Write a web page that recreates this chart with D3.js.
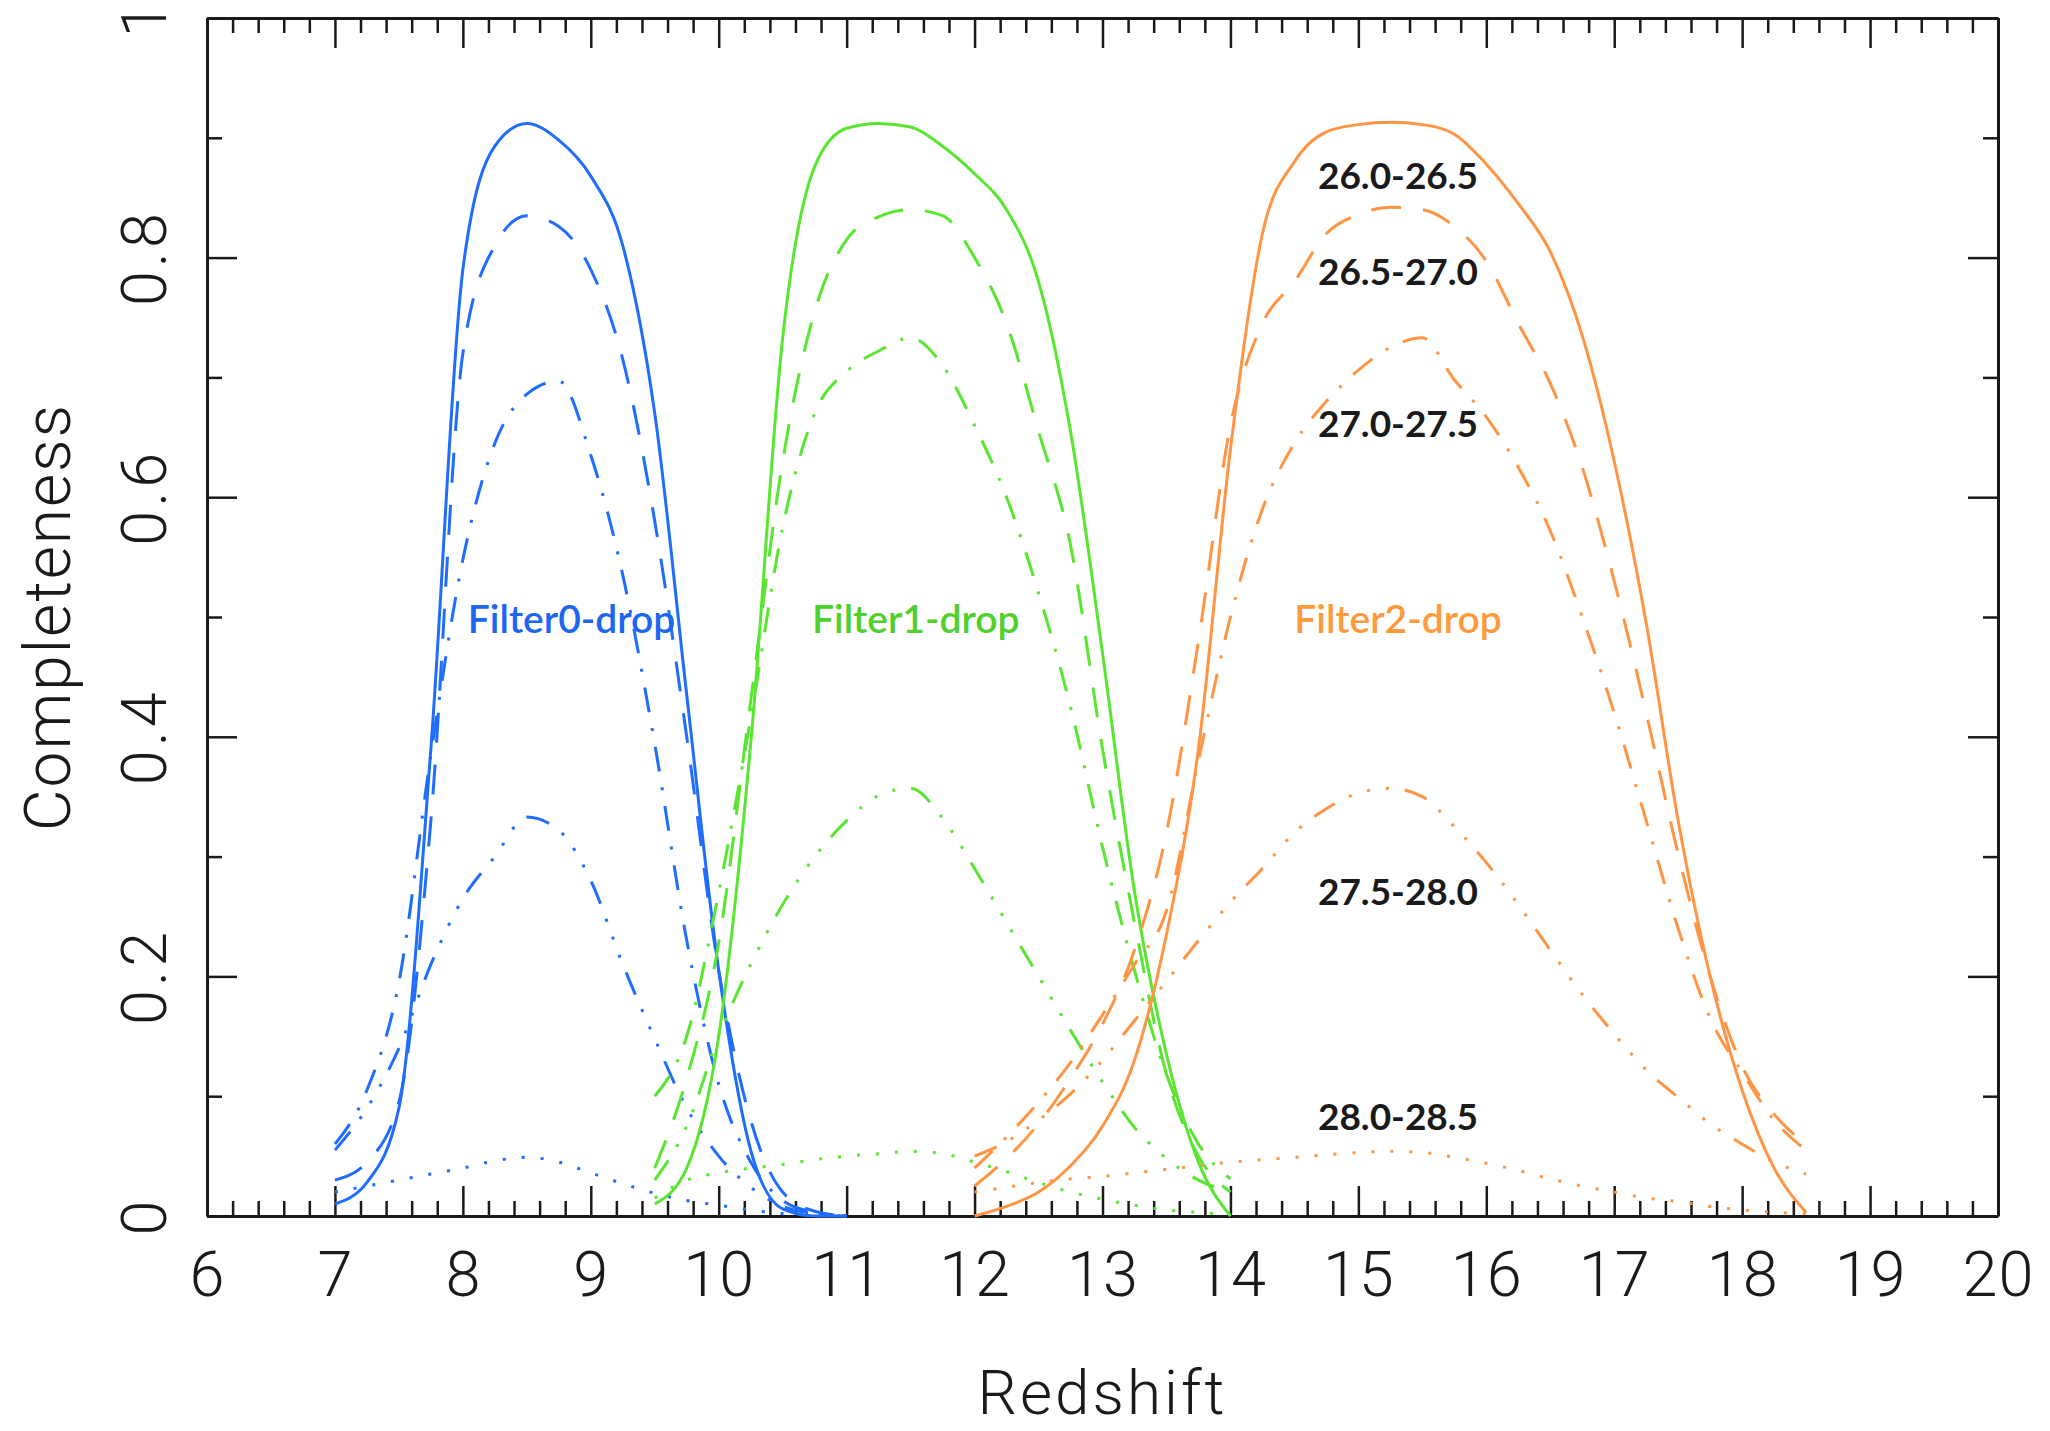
<!DOCTYPE html>
<html>
<head>
<meta charset="utf-8">
<script src="https://cdn.jsdelivr.net/npm/d3@7"></script>
<style>
  body { margin: 0; background: #fff; }
  svg { display: block; }
</style>
</head>
<body>
<svg width="2050" height="1431"></svg>
<script>
// redshift grids, one per dropout filter
const zF0 = [7.0, 7.25, 7.5, 7.75, 8.0, 8.25, 8.5, 8.75, 9.0, 9.25, 9.5, 9.75, 10.0, 10.25, 10.5, 10.75, 11.0];
const zF1 = [9.5, 9.75, 10.0, 10.25, 10.5, 10.75, 11.0, 11.25, 11.5, 11.75, 12.0, 12.25, 12.5, 12.75, 13.0, 13.25, 13.5, 13.75, 14.0];
const zF2 = [12.0, 12.25, 12.5, 12.75, 13.0, 13.25, 13.5, 13.75, 14.0, 14.25, 14.5, 14.75, 15.0, 15.25, 15.5, 15.75, 16.0, 16.25, 16.5, 16.75, 17.0, 17.25, 17.5, 17.75, 18.0, 18.25, 18.5];

// magnitude bins (one line style each)
const magBins = ["26.0-26.5", "26.5-27.0", "27.0-27.5", "27.5-28.0", "28.0-28.5"];
const filterNames = ["Filter0-drop", "Filter1-drop", "Filter2-drop"];

// Filter0-drop completeness, rows follow magBins
const f0Bin1 = [0.01, 0.028, 0.09, 0.39, 0.79, 0.893, 0.912, 0.898, 0.868, 0.81, 0.67, 0.435, 0.205, 0.055, 0.006, 0, 0];
const f0Bin2 = [0.03, 0.045, 0.095, 0.33, 0.72, 0.81, 0.835, 0.826, 0.79, 0.715, 0.58, 0.40, 0.205, 0.08, 0.02, 0.004, 0];
const f0Bin3 = [0.06, 0.105, 0.195, 0.385, 0.548, 0.645, 0.686, 0.697, 0.635, 0.535, 0.394, 0.23, 0.11, 0.045, 0.013, 0.003, 0];
const f0Bin4 = [0.055, 0.09, 0.14, 0.21, 0.265, 0.30, 0.333, 0.322, 0.28, 0.21, 0.148, 0.09, 0.05, 0.024, 0.008, 0.002, 0];
const f0Bin5 = [0.02, 0.025, 0.03, 0.035, 0.04, 0.046, 0.049, 0.045, 0.036, 0.027, 0.019, 0.013, 0.009, 0.005, 0.002, 0.001, 0];

// Filter1-drop
const f1Bin1 = [0.01, 0.04, 0.15, 0.394, 0.733, 0.876, 0.908, 0.912, 0.909, 0.893, 0.87, 0.84, 0.78, 0.655, 0.47, 0.271, 0.135, 0.045, 0.0];
const f1Bin2 = [0.04, 0.115, 0.228, 0.43, 0.63, 0.755, 0.815, 0.834, 0.84, 0.835, 0.80, 0.745, 0.655, 0.56, 0.39, 0.245, 0.118, 0.05, 0.02];
const f1Bin3 = [0.10, 0.15, 0.27, 0.415, 0.575, 0.67, 0.705, 0.722, 0.733, 0.71, 0.66, 0.60, 0.52, 0.425, 0.308, 0.205, 0.118, 0.06, 0.031];
const f1Bin4 = [0.03, 0.075, 0.15, 0.21, 0.26, 0.30, 0.33, 0.351, 0.357, 0.332, 0.29, 0.245, 0.20, 0.155, 0.112, 0.074, 0.048, 0.03, 0.02];
const f1Bin5 = [0.015, 0.03, 0.036, 0.04, 0.043, 0.047, 0.05, 0.052, 0.054, 0.052, 0.045, 0.037, 0.028, 0.02, 0.014, 0.009, 0.005, 0.003, 0.001];

// Filter2-drop
const f2Bin1 = [0.0, 0.008, 0.02, 0.042, 0.075, 0.13, 0.235, 0.39, 0.64, 0.82, 0.88, 0.905, 0.911, 0.913, 0.911, 0.903, 0.878, 0.845, 0.805, 0.735, 0.63, 0.495, 0.33, 0.20, 0.105, 0.04, 0.003];
const f2Bin2 = [0.025, 0.048, 0.077, 0.115, 0.16, 0.222, 0.32, 0.48, 0.66, 0.745, 0.78, 0.82, 0.836, 0.842, 0.84, 0.826, 0.797, 0.745, 0.695, 0.625, 0.53, 0.42, 0.302, 0.20, 0.125, 0.085, 0.06];
const f2Bin3 = [0.04, 0.066, 0.095, 0.128, 0.168, 0.21, 0.255, 0.38, 0.50, 0.59, 0.645, 0.68, 0.706, 0.725, 0.733, 0.698, 0.667, 0.625, 0.572, 0.50, 0.42, 0.33, 0.24, 0.165, 0.12, 0.08, 0.055];
const f2Bin4 = [0.05, 0.062, 0.08, 0.102, 0.13, 0.163, 0.196, 0.23, 0.262, 0.29, 0.32, 0.34, 0.353, 0.357, 0.35, 0.325, 0.295, 0.26, 0.222, 0.185, 0.152, 0.122, 0.099, 0.077, 0.06, 0.045, 0.035];
const f2Bin5 = [0.02, 0.024, 0.028, 0.031, 0.033, 0.036, 0.039, 0.042, 0.045, 0.047, 0.049, 0.051, 0.053, 0.054, 0.053, 0.049, 0.044, 0.038, 0.031, 0.025, 0.02, 0.015, 0.012, 0.008, 0.005, 0.003, 0.002];

// axis ticks
const xMajor = [6, 7, 8, 9, 10, 11, 12, 13, 14, 15, 16, 17, 18, 19, 20];
const yMajor = [0, 0.2, 0.4, 0.6, 0.8, 1];
const yLabels = ["0", "0.2", "0.4", "0.6", "0.8", "1"];

const filters = [
  { name: filterNames[0], z: zF0, bins: [f0Bin1, f0Bin2, f0Bin3, f0Bin4, f0Bin5], color: "#1f6dff", text: "#1c66f2", lx: 8.85 },
  { name: filterNames[1], z: zF1, bins: [f1Bin1, f1Bin2, f1Bin3, f1Bin4, f1Bin5], color: "#58e631", text: "#4fd02c", lx: 11.54 },
  { name: filterNames[2], z: zF2, bins: [f2Bin1, f2Bin2, f2Bin3, f2Bin4, f2Bin5], color: "#ff9544", text: "#ff9a3a", lx: 15.31 }
];

// line style per magnitude bin: solid, dashed, dash-dot, dash-dot-dot-dot, dotted
const dashes = [null, "30,22", "25,16,3,16", "24,16,3,16,3,16,3,16", "3,16"];

// where the bin labels sit (x in redshift, baseline in completeness)
const binLabelX = 15.31;
const binLabelY = [0.857, 0.777, 0.65, 0.26, 0.072];

const svg = d3.select("svg");
const W = 2050, H = 1431;
const margin = { left: 207, right: 52, top: 18, bottom: 215 };

const x = d3.scaleLinear().domain([6, 20]).range([margin.left, W - margin.right]);
const y = d3.scaleLinear().domain([0, 1]).range([H - margin.bottom, margin.top]);

const xMinor = d3.range(6, 20.001, 0.2).map(v => +v.toFixed(1)).filter(v => Math.abs(v - Math.round(v)) > 1e-6);
const yMinor = [0.1, 0.3, 0.5, 0.7, 0.9];

const tickFont = "Roboto, 'Liberation Sans', sans-serif";

// ---- frame + ticks (all pointing inward)
function styleAxis(g) {
  g.selectAll("path.domain").attr("stroke", "#1a1a1a").attr("stroke-width", 3);
  g.selectAll(".tick line").attr("stroke", "#1a1a1a").attr("stroke-width", 2.5);
}

const gx = svg.append("g").attr("transform", `translate(0,${y(0)})`);
gx.call(d3.axisBottom(x).tickValues(xMajor).tickSize(-30).tickSizeOuter(0).tickPadding(35).tickFormat(d3.format("d")));
gx.append("g").call(d3.axisBottom(x).tickValues(xMinor).tickSize(-15).tickSizeOuter(0).tickFormat(""))
  .select("path.domain").remove();
gx.selectAll("text").attr("font-family", tickFont).attr("font-weight", 300).attr("font-size", 63)
  .attr("letter-spacing", 1).attr("fill", "#1a1a1a");
styleAxis(gx);

const gt = svg.append("g").attr("transform", `translate(0,${y(1)})`);
gt.call(d3.axisTop(x).tickValues(xMajor).tickSize(-30).tickSizeOuter(0).tickFormat(""));
gt.append("g").call(d3.axisTop(x).tickValues(xMinor).tickSize(-15).tickSizeOuter(0).tickFormat(""))
  .select("path.domain").remove();
styleAxis(gt);

const gl = svg.append("g").attr("transform", `translate(${x(6)},0)`);
gl.call(d3.axisLeft(y).tickValues(yMajor).tickSize(-30).tickSizeOuter(0).tickFormat(""));
gl.append("g").call(d3.axisLeft(y).tickValues(yMinor).tickSize(-15).tickSizeOuter(0).tickFormat(""))
  .select("path.domain").remove();
styleAxis(gl);

const gr = svg.append("g").attr("transform", `translate(${x(20)},0)`);
gr.call(d3.axisRight(y).tickValues(yMajor).tickSize(-30).tickSizeOuter(0).tickFormat(""));
gr.append("g").call(d3.axisRight(y).tickValues(yMinor).tickSize(-15).tickSizeOuter(0).tickFormat(""))
  .select("path.domain").remove();
styleAxis(gr);

// rotated y tick labels
svg.append("g").selectAll("text")
  .data(yMajor)
  .join("text")
  .attr("transform", (d) => `translate(166,${y(d)}) rotate(-90)`)
  .attr("text-anchor", "middle")
  .attr("font-family", tickFont)
  .attr("font-weight", 300)
  .attr("font-size", 63)
  .attr("letter-spacing", 4)
  .attr("fill", "#1a1a1a")
  .text((d, i) => yLabels[i]);

// axis titles
svg.append("text")
  .attr("transform", `translate(70,${(y(0) + y(1)) / 2}) rotate(-90)`)
  .attr("text-anchor", "middle")
  .attr("font-family", tickFont)
  .attr("font-weight", 300)
  .attr("font-size", 64)
  .attr("letter-spacing", 2)
  .attr("fill", "#1a1a1a")
  .text("Completeness");

svg.append("text")
  .attr("x", (x(6) + x(20)) / 2)
  .attr("y", 1414)
  .attr("text-anchor", "middle")
  .attr("font-family", tickFont)
  .attr("font-weight", 300)
  .attr("font-size", 62)
  .attr("letter-spacing", 3)
  .attr("fill", "#1a1a1a")
  .text("Redshift");

// ---- curves
const line = d3.line()
  .x(d => x(d[0]))
  .y(d => y(d[1]))
  .curve(d3.curveMonotoneX);

const curves = svg.append("g").attr("fill", "none");
filters.forEach(f => {
  f.bins.forEach((vals, i) => {
    curves.append("path")
      .datum(f.z.map((z, k) => [z, vals[k]]))
      .attr("d", line)
      .attr("stroke", f.color)
      .attr("stroke-width", 3)
      .attr("stroke-dasharray", dashes[i])
      .attr("stroke-linejoin", "round");
  });
});

// ---- annotations
const labelFont = "Lato, 'Open Sans', sans-serif";
svg.append("g").selectAll("text")
  .data(filters)
  .join("text")
  .attr("x", d => x(d.lx))
  .attr("y", y(0.487))
  .attr("text-anchor", "middle")
  .attr("font-family", labelFont)
  .attr("font-weight", 600)
  .attr("font-size", 39)
  .attr("fill", d => d.text)
  .text(d => d.name);

svg.append("g").selectAll("text")
  .data(magBins)
  .join("text")
  .attr("x", x(binLabelX))
  .attr("y", (d, i) => y(binLabelY[i]))
  .attr("text-anchor", "middle")
  .attr("font-family", labelFont)
  .attr("font-weight", 700)
  .attr("font-size", 37)
  .attr("fill", "#1a1a1a")
  .text(d => d);
</script>
</body>
</html>
